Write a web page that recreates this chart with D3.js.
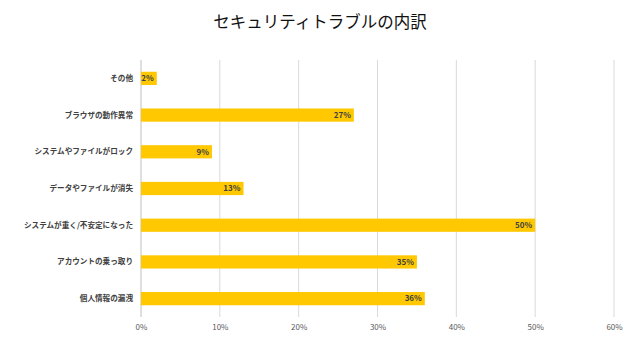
<!DOCTYPE html>
<html><head><meta charset="utf-8">
<script src="https://cdn.jsdelivr.net/npm/d3@7"></script>
<style>body{margin:0;background:#fff}svg{display:block}text{font-family:"Noto Sans CJK JP",sans-serif}</style>
</head><body><svg id="c" width="640" height="360"></svg>
<script>
const categories = ["その他","ブラウザの動作異常","システムやファイルがロック","データやファイルが消失","システムが重く/不安定になった","アカウントの乗っ取り","個人情報の漏洩"];
const values = [2,27,9,13,50,35,36];
const ticks = [0,10,20,30,40,50,60];
const title = "セキュリティトラブルの内訳";

const svg = d3.select("#c");
const x = d3.scaleLinear().domain([0,60]).range([141,614]);
const y = d3.scaleBand().domain(categories).range([60,317]).paddingInner(0.64).paddingOuter(0.32);

svg.append("text").attr("x",320).attr("y",28).attr("text-anchor","middle")
  .attr("font-size",16.5).attr("fill","#111").text(title);

const grid = svg.append("g");
grid.selectAll("line").data(ticks).join("line")
  .attr("x1",d=>x(d)).attr("x2",d=>x(d)).attr("y1",60).attr("y2",317)
  .attr("stroke",d=>d===0?"#bfbfbf":"#d9d9d9").attr("stroke-width",1);

const xAxis = d3.axisBottom(x).tickValues(ticks).tickFormat(d=>d+"%").tickSize(0);
const gx = svg.append("g").attr("transform","translate(0,317)").call(xAxis);
gx.select(".domain").remove();
gx.selectAll("text").attr("dy",0).attr("y",13).attr("font-size",8).attr("fill","#595959").style("font-family","'Noto Sans CJK JP',sans-serif");

svg.append("g").selectAll("rect").data(values).join("rect")
  .attr("x",x(0)).attr("y",(d,i)=>y(categories[i]))
  .attr("width",d=>x(d)-x(0)).attr("height",y.bandwidth()).attr("fill","#ffc800");

svg.append("g").selectAll("text").data(values).join("text")
  .attr("x",d=>x(d)-3).attr("y",(d,i)=>y(categories[i])+y.bandwidth()/2)
  .attr("dy","0.35em").attr("text-anchor","end").attr("font-size",8).attr("font-weight","bold")
  .attr("fill","#404040").text(d=>d+"%");

const yAxis = d3.axisLeft(y).tickSize(0).tickPadding(8);
const gy = svg.append("g").attr("transform","translate(141,0)").call(yAxis);
gy.select(".domain").remove();
gy.selectAll("text").attr("font-size",7.6).attr("fill","#404040").attr("font-weight","bold").style("font-family","'Noto Sans CJK JP',sans-serif");
</script></body></html>
